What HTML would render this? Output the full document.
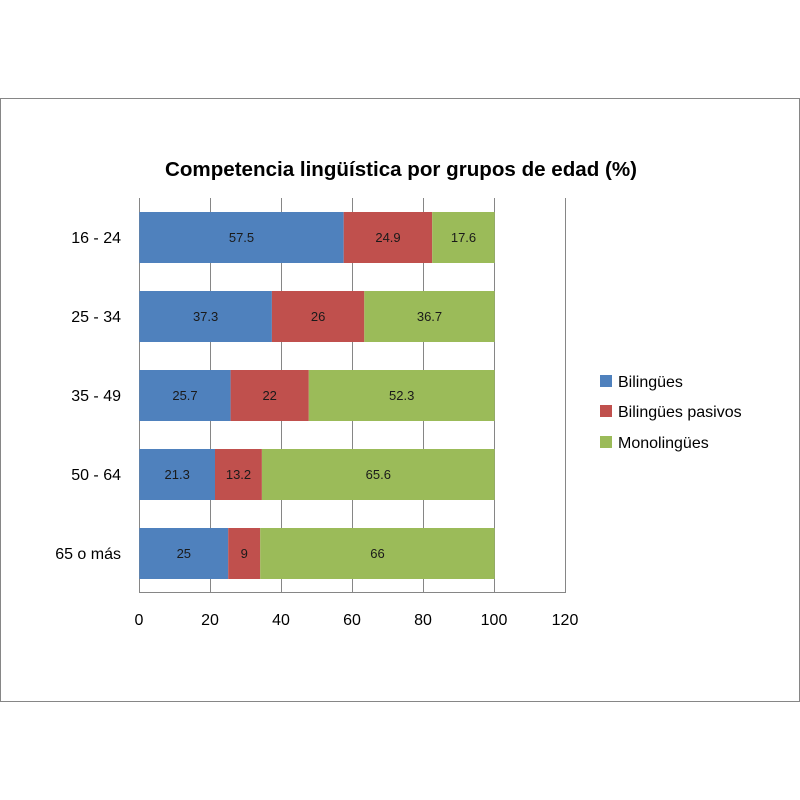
<!DOCTYPE html>
<html><head><meta charset="utf-8"><style>html,body{margin:0;padding:0;background:#fff}svg{display:block}</style></head><body>
<svg width="800" height="800" xmlns="http://www.w3.org/2000/svg" font-family="Liberation Sans, sans-serif">
<rect x="0.5" y="98.5" width="799" height="603" fill="#fff" stroke="#868686"/>
<text x="401" y="176" font-size="20" font-weight="bold" text-anchor="middle" textLength="472" lengthAdjust="spacingAndGlyphs">Competencia lingüística por grupos de edad (%)</text>
<g stroke="#868686" stroke-width="1">
<line x1="139.5" y1="198" x2="139.5" y2="593"/>
<line x1="210.5" y1="198" x2="210.5" y2="593"/>
<line x1="281.5" y1="198" x2="281.5" y2="593"/>
<line x1="352.5" y1="198" x2="352.5" y2="593"/>
<line x1="423.5" y1="198" x2="423.5" y2="593"/>
<line x1="494.5" y1="198" x2="494.5" y2="593"/>
<line x1="565.5" y1="198" x2="565.5" y2="593"/>
<line x1="139" y1="592.5" x2="566" y2="592.5"/>
</g>
<g>
<rect x="139.3" y="212" width="204.4" height="51" fill="#4f81bd"/>
<rect x="343.7" y="212" width="88.5" height="51" fill="#c0504d"/>
<rect x="432.2" y="212" width="62.5" height="51" fill="#9bbb59"/>
<rect x="139.3" y="291" width="132.6" height="51" fill="#4f81bd"/>
<rect x="271.9" y="291" width="92.4" height="51" fill="#c0504d"/>
<rect x="364.3" y="291" width="130.4" height="51" fill="#9bbb59"/>
<rect x="139.3" y="370" width="91.3" height="51" fill="#4f81bd"/>
<rect x="230.6" y="370" width="78.2" height="51" fill="#c0504d"/>
<rect x="308.8" y="370" width="185.9" height="51" fill="#9bbb59"/>
<rect x="139.3" y="449" width="75.7" height="51" fill="#4f81bd"/>
<rect x="215" y="449" width="46.9" height="51" fill="#c0504d"/>
<rect x="261.9" y="449" width="232.8" height="51" fill="#9bbb59"/>
<rect x="139.3" y="528" width="88.9" height="51" fill="#4f81bd"/>
<rect x="228.2" y="528" width="32" height="51" fill="#c0504d"/>
<rect x="260.2" y="528" width="234.5" height="51" fill="#9bbb59"/>
</g>
<g font-size="13" text-anchor="middle" fill="#1a1a1a">
<text x="241.5" y="242">57.5</text><text x="388" y="242">24.9</text><text x="463.5" y="242">17.6</text>
<text x="205.6" y="321">37.3</text><text x="318.1" y="321">26</text><text x="429.5" y="321">36.7</text>
<text x="185" y="400">25.7</text><text x="269.7" y="400">22</text><text x="401.7" y="400">52.3</text>
<text x="177.2" y="479">21.3</text><text x="238.5" y="479">13.2</text><text x="378.3" y="479">65.6</text>
<text x="183.8" y="558">25</text><text x="244.2" y="558">9</text><text x="377.5" y="558">66</text>
</g>
<g font-size="16" text-anchor="end">
<text x="121" y="243">16 - 24</text>
<text x="121" y="322">25 - 34</text>
<text x="121" y="401">35 - 49</text>
<text x="121" y="480">50 - 64</text>
<text x="121" y="559">65 o más</text>
</g>
<g font-size="16" text-anchor="middle">
<text x="139" y="625">0</text><text x="210" y="625">20</text><text x="281" y="625">40</text>
<text x="352" y="625">60</text><text x="423" y="625">80</text><text x="494" y="625">100</text><text x="565" y="625">120</text>
</g>
<g font-size="16">
<rect x="600" y="375" width="12" height="12" fill="#4f81bd"/><text x="618" y="387">Bilingües</text>
<rect x="600" y="405" width="12" height="12" fill="#c0504d"/><text x="618" y="417">Bilingües pasivos</text>
<rect x="600" y="436" width="12" height="12" fill="#9bbb59"/><text x="618" y="448">Monolingües</text>
</g>
</svg>
</body></html>
